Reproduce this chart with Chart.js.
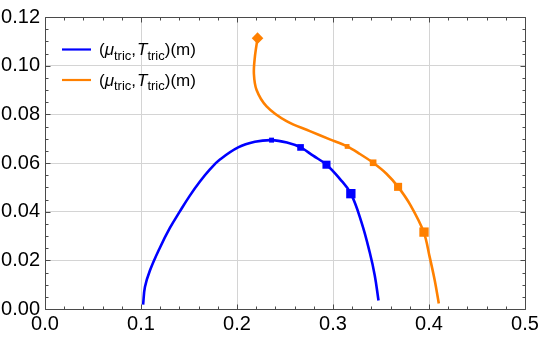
<!DOCTYPE html>
<html>
<head>
<meta charset="utf-8">
<script src="https://cdn.jsdelivr.net/npm/chart.js@4.4.1/dist/chart.umd.min.js"></script>
<style>
html,body{margin:0;padding:0;background:#fff;}
#wrap{width:542px;height:338px;}
</style>
</head>
<body>
<div id="wrap"><canvas id="c" width="542" height="338"></canvas></div>
<script>
// ---- data ----
const blueX = [0.1022, 0.1041, 0.1093, 0.1197, 0.1301, 0.1405, 0.1509, 0.1614, 0.1718, 0.1822, 0.2012, 0.2186, 0.2360, 0.2520, 0.2662, 0.2793, 0.2932, 0.3071, 0.3186, 0.3297, 0.3383, 0.3435, 0.3474];
const blueY = [0.0018, 0.0090, 0.0158, 0.0252, 0.0333, 0.0401, 0.0466, 0.0524, 0.0574, 0.0614, 0.0664, 0.0687, 0.0694, 0.0684, 0.0664, 0.0630, 0.0593, 0.0535, 0.0474, 0.0356, 0.0232, 0.0138, 0.0035];
const orangeX = [0.2214, 0.2186, 0.2176, 0.2204, 0.2308, 0.2516, 0.2759, 0.2967, 0.3147, 0.3280, 0.3418, 0.3557, 0.3678, 0.3805, 0.3945, 0.4008, 0.4060, 0.4102];
const orangeY = [0.1113, 0.1035, 0.0967, 0.0900, 0.0833, 0.0772, 0.0731, 0.0697, 0.0668, 0.0637, 0.0601, 0.0556, 0.0502, 0.0428, 0.0316, 0.0212, 0.0117, 0.0023];
const blueMarkX = [0.2360, 0.2662, 0.2932, 0.3186];
const blueMarkY = [0.0694, 0.0664, 0.0593, 0.0474];
const orangeMarkX = [0.3147, 0.3418, 0.3678, 0.3948];
const orangeMarkY = [0.0668, 0.0601, 0.0502, 0.0316];
const orangeStartX = [0.2214];
const orangeStartY = [0.1113];
const xTicks = [0, 0.1, 0.2, 0.3, 0.4, 0.5];
const yTicks = [0, 0.02, 0.04, 0.06, 0.08, 0.10, 0.12];
const seriesLabels = ['blue', 'orange'];

const BLUE = '#0000ff';
const ORANGE = '#ff8000';
const FONT = '"Liberation Sans", Arial, sans-serif';

const toPts = (xs, ys) => xs.map((x, i) => ({x: x, y: ys[i]}));

const frameTicks = {
  id: 'frameTicks',
  afterDatasetsDraw(chart) {
    const ctx = chart.ctx, a = chart.chartArea;
    const xs = chart.scales.x, ys = chart.scales.y;
    ctx.save();
    ctx.strokeStyle = '#4a4a4a';
    ctx.lineWidth = 1;
    const L = Math.round(a.left) + 0.5, R = Math.round(a.right) + 0.5;
    const T = Math.round(a.top) + 0.5, B = Math.round(a.bottom) + 0.5;
    ctx.beginPath();
    ctx.rect(L, T, R - L, B - T);
    ctx.stroke();
    ctx.beginPath();
    for (let i = 0; i <= 25; i++) {
      const v = i * 0.02;
      const p = Math.round(xs.getPixelForValue(v)) + 0.5;
      const len = (i % 5 === 0) ? 5 : 3;
      ctx.moveTo(p, B); ctx.lineTo(p, B - len);
      ctx.moveTo(p, T); ctx.lineTo(p, T + len);
    }
    for (let i = 0; i <= 24; i++) {
      const v = i * 0.005;
      const p = Math.round(ys.getPixelForValue(v)) + 0.5;
      const len = (i % 4 === 0) ? 5 : 3;
      ctx.moveTo(L, p); ctx.lineTo(L + len, p);
      ctx.moveTo(R, p); ctx.lineTo(R - len, p);
    }
    ctx.stroke();
    ctx.restore();
  }
};

const customLegend = {
  id: 'customLegend',
  afterDraw(chart) {
    const ctx = chart.ctx;
    const rows = [{color: BLUE, y: 49.5}, {color: ORANGE, y: 80}];
    ctx.save();
    rows.forEach(r => {
      ctx.strokeStyle = r.color;
      ctx.lineWidth = 2.2;
      ctx.beginPath();
      ctx.moveTo(62, r.y); ctx.lineTo(91, r.y);
      ctx.stroke();
      const base = r.y + 5.5;
      let x = 99;
      ctx.fillStyle = '#000';
      ctx.textBaseline = 'alphabetic';
      ctx.textAlign = 'left';
      const part = (t, font, dy) => { ctx.font = font; ctx.fillText(t, x, base + dy); x += ctx.measureText(t).width; };
      part('(', '17px ' + FONT, 0);
      part('\u03bc', 'italic 17px ' + FONT, 0);
      part('tric', '13px ' + FONT, 4.5);
      part(',', '17px ' + FONT, 0);
      x += 1;
      part('T', 'italic 17px ' + FONT, 0);
      part('tric', '13px ' + FONT, 4.5);
      part(')(m)', '17px ' + FONT, 0);
    });
    ctx.restore();
  }
};

new Chart(document.getElementById('c'), {
  type: 'scatter',
  data: {
    datasets: [
      {label: seriesLabels[0], data: toPts(blueX, blueY), showLine: true, borderColor: BLUE, borderWidth: 2.6, pointRadius: 0, tension: 0.4, order: 2},
      {label: seriesLabels[1], data: toPts(orangeX, orangeY), showLine: true, borderColor: ORANGE, borderWidth: 2.6, pointRadius: 0, tension: 0.35, order: 3},
      {label: 'bm', data: toPts(blueMarkX, blueMarkY), showLine: false, pointStyle: 'rect', pointRadius: [3.5, 4.7, 5.7, 6.6], pointBackgroundColor: BLUE, pointBorderWidth: 0, order: 0},
      {label: 'om', data: toPts(orangeMarkX, orangeMarkY), showLine: false, pointStyle: 'rect', pointRadius: [3.4, 4.7, 5.7, 6.6], pointBackgroundColor: ORANGE, pointBorderWidth: 0, order: 1},
      {label: 'os', data: toPts(orangeStartX, orangeStartY), showLine: false, pointStyle: 'rectRot', pointRadius: 5.8, pointBackgroundColor: ORANGE, pointBorderWidth: 0, order: 1}
    ]
  },
  options: {
    responsive: false,
    animation: false,
    devicePixelRatio: 1,
    layout: {padding: {top: 12, right: 17, left: 0, bottom: 0}},
    plugins: {legend: {display: false}, tooltip: {enabled: false}},
    scales: {
      x: {
        type: 'linear', min: 0, max: 0.5,
        afterBuildTicks: s => { s.ticks = xTicks.map(v => ({value: v})); },
        afterFit: s => { s.height = 29; },
        ticks: {color: '#000', font: {family: FONT, size: 20}, padding: 3, maxRotation: 0, autoSkip: false,
          callback: v => Number(v).toFixed(1)},
        grid: {color: '#d4d4d4', lineWidth: 1, drawTicks: false},
        border: {display: false}
      },
      y: {
        type: 'linear', min: 0, max: 0.12,
        afterBuildTicks: s => { s.ticks = yTicks.map(v => ({value: v})); },
        afterFit: s => { s.width = 45; },
        ticks: {color: '#000', font: {family: FONT, size: 20}, padding: 5, autoSkip: false,
          callback: v => Number(v).toFixed(2)},
        grid: {color: '#d4d4d4', lineWidth: 1, drawTicks: false},
        border: {display: false}
      }
    }
  },
  plugins: [frameTicks, customLegend]
});
</script>
</body>
</html>
